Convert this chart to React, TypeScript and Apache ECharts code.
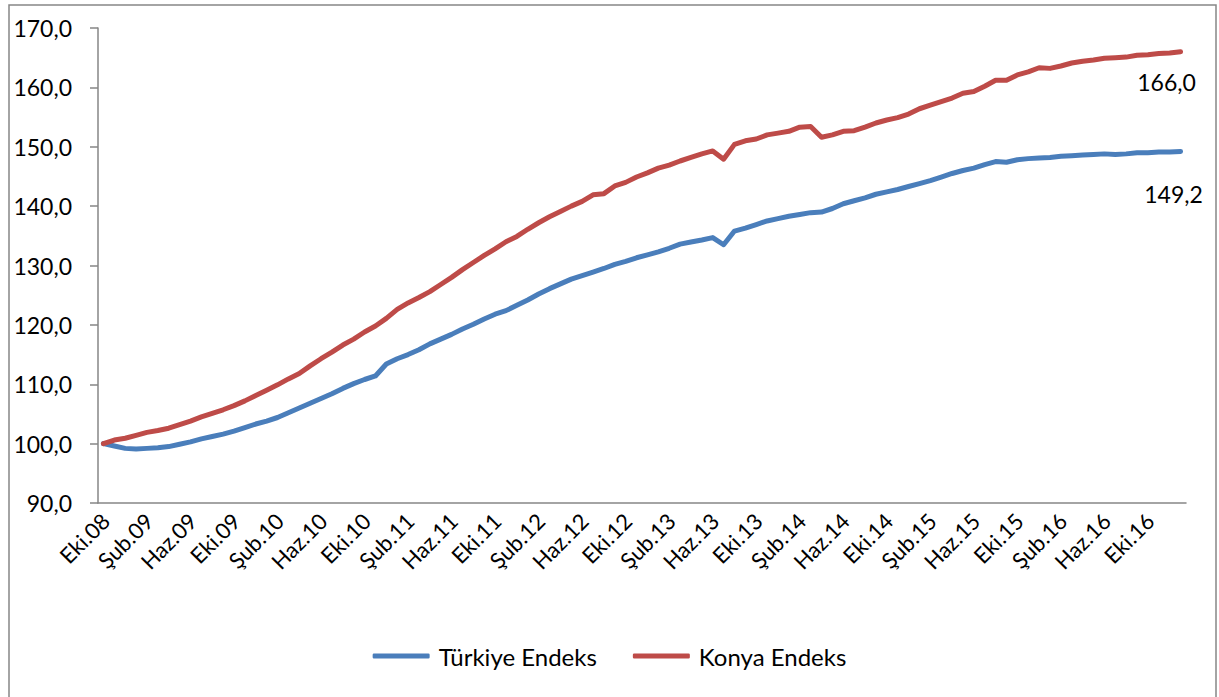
import React, { useEffect, useRef } from "react";
import * as echarts from "echarts";

const monthNames = ["Oca", "Şub", "Mar", "Nis", "May", "Haz", "Tem", "Ağu", "Eyl", "Eki", "Kas", "Ara"];
// Eki.08 .. Oca.17 (100 months)
const categories: string[] = [];
for (let k = 0; k < 100; k++) {
  const m = (9 + k) % 12;
  const y = 8 + Math.floor((9 + k) / 12);
  categories.push(monthNames[m] + "." + String(y).padStart(2, "0"));
}

const turkiye = [
  100.0, 99.6, 99.2, 99.1, 99.2, 99.3, 99.5, 99.9, 100.3, 100.8,
  101.2, 101.6, 102.1, 102.7, 103.3, 103.8, 104.4, 105.2, 106.0, 106.8,
  107.6, 108.4, 109.3, 110.1, 110.8, 111.4, 113.4, 114.3, 115.0, 115.8,
  116.8, 117.6, 118.4, 119.3, 120.1, 121.0, 121.8, 122.4, 123.3, 124.2,
  125.2, 126.1, 126.9, 127.7, 128.3, 128.9, 129.5, 130.2, 130.7, 131.3,
  131.8, 132.3, 132.9, 133.6, 133.95, 134.3, 134.7, 133.5, 135.8, 136.3,
  136.9, 137.5, 137.9, 138.3, 138.6, 138.9, 139.0, 139.6, 140.4, 140.9,
  141.4, 142.0, 142.4, 142.8, 143.3, 143.8, 144.3, 144.9, 145.5, 146.0,
  146.4, 147.0, 147.5, 147.4, 147.8, 148.0, 148.1, 148.2, 148.4, 148.5,
  148.6, 148.7, 148.8, 148.7, 148.8, 149.0, 149.0, 149.1, 149.1, 149.2,
];

const konya = [
  100.0, 100.6, 100.9, 101.4, 101.9, 102.2, 102.6, 103.2, 103.8, 104.5,
  105.1, 105.7, 106.4, 107.2, 108.1, 109.0, 109.9, 110.9, 111.8, 113.1,
  114.3, 115.4, 116.6, 117.6, 118.8, 119.8, 121.1, 122.6, 123.7, 124.6,
  125.6, 126.8, 128.0, 129.3, 130.5, 131.7, 132.8, 134.0, 134.9, 136.1,
  137.2, 138.2, 139.1, 140.0, 140.8, 141.9, 142.1, 143.4, 144.0, 144.9,
  145.6, 146.4, 146.9, 147.6, 148.2, 148.8, 149.3, 147.9, 150.4, 151.0,
  151.3, 152.0, 152.3, 152.6, 153.3, 153.4, 151.6, 152.0, 152.6, 152.7,
  153.3, 154.0, 154.5, 154.9, 155.5, 156.4, 157.0, 157.6, 158.2, 159.0,
  159.3, 160.2, 161.2, 161.2, 162.1, 162.6, 163.3, 163.2, 163.6, 164.1,
  164.4, 164.6, 164.9, 165.0, 165.1, 165.4, 165.5, 165.7, 165.8, 166.0,
];

const yTicks = { min: 90, max: 170, interval: 10 };
const seriesNames = ["Türkiye Endeks", "Konya Endeks"];
const FONT = "Lato";
const LABEL_EVERY = 4;

function fmt(v: number) {
  return v.toFixed(1).replace(".", ",");
}

function withEndLabel(values: number[], offset: [number, number]) {
  return values.map((v, i) =>
    i === values.length - 1
      ? {
          value: v,
          label: {
            show: true,
            position: "inside",
            offset,
            formatter: (p: any) => fmt(p.value),
            color: "#000",
            fontFamily: FONT,
            fontSize: 23,
          },
        }
      : v
  );
}

const frame = {
  type: "rect",
  id: "frame",
  shape: { x: 9, y: 5, width: 1207, height: 700 },
  style: { fill: "none", stroke: "#868686", lineWidth: 1.5 },
  silent: true,
};

export default function App() {
  const ref = useRef<HTMLDivElement>(null);
  useEffect(() => {
    if (!ref.current) return;
    const chart = echarts.init(ref.current, null, { renderer: "svg" });
    chart.setOption({
      animation: false,
      backgroundColor: "#fff",
      graphic: [frame],
      grid: { left: 98, right: 33, top: 28, bottom: 194, containLabel: false },
      legend: {
        bottom: 24,
        left: "center",
        itemWidth: 57,
        itemHeight: 5,
        itemGap: 36,
        icon: "roundRect",
        textStyle: { fontFamily: FONT, fontSize: 24, color: "#000", padding: [0, 0, 0, 4] },
        data: seriesNames,
      },
      xAxis: {
        type: "category",
        data: categories,
        boundaryGap: true,
        axisLine: { lineStyle: { color: "#868686", width: 1.5 } },
        axisTick: { interval: LABEL_EVERY - 1, length: 8, lineStyle: { color: "#868686", width: 1.5 } },
        axisLabel: { show: false },
      },
      yAxis: {
        type: "value",
        min: yTicks.min,
        max: yTicks.max,
        interval: yTicks.interval,
        splitLine: { show: false },
        axisLine: { show: true, lineStyle: { color: "#868686", width: 1.5 } },
        axisTick: { show: true, length: 8, lineStyle: { color: "#868686", width: 1.5 } },
        axisLabel: {
          margin: 26,
          fontFamily: FONT,
          fontSize: 23,
          color: "#000",
          formatter: (v: number) => fmt(v),
        },
      },
      series: [
        {
          name: seriesNames[0],
          type: "line",
          data: withEndLabel(turkiye, [-7, 42]),
          symbol: "circle",
          symbolSize: 0.1,
          lineStyle: { width: 5, color: "#4A7EBB", cap: "round", join: "round" },
          itemStyle: { color: "#4A7EBB" },
          z: 2,
        },
        {
          name: seriesNames[1],
          type: "line",
          data: withEndLabel(konya, [-14, 30]),
          symbol: "circle",
          symbolSize: 0.1,
          lineStyle: { width: 5, color: "#BE4B48", cap: "round", join: "round" },
          itemStyle: { color: "#BE4B48" },
          z: 3,
        },
      ],
    });

    // rotated category labels, placed through the axis scale
    const labels: any[] = [];
    categories.forEach((c, i) => {
      if (i % LABEL_EVERY !== 0) return;
      const pt = chart.convertToPixel({ xAxisIndex: 0, yAxisIndex: 0 }, [i, yTicks.min]) as number[];
      labels.push({
        type: "text",
        x: pt[0] + 2,
        y: pt[1] + 14,
        rotation: Math.PI / 4,
        silent: true,
        style: {
          text: c,
          align: "right",
          verticalAlign: "middle",
          fontFamily: FONT,
          fontSize: 22,
          fill: "#000",
        },
      });
    });
    chart.setOption({ graphic: [frame, ...labels] });
    return () => chart.dispose();
  }, []);
  return (
    <div
      ref={ref}
      style={{ position: "fixed", left: 0, top: 0, width: 1219, height: 697 }}
    />
  );
}
